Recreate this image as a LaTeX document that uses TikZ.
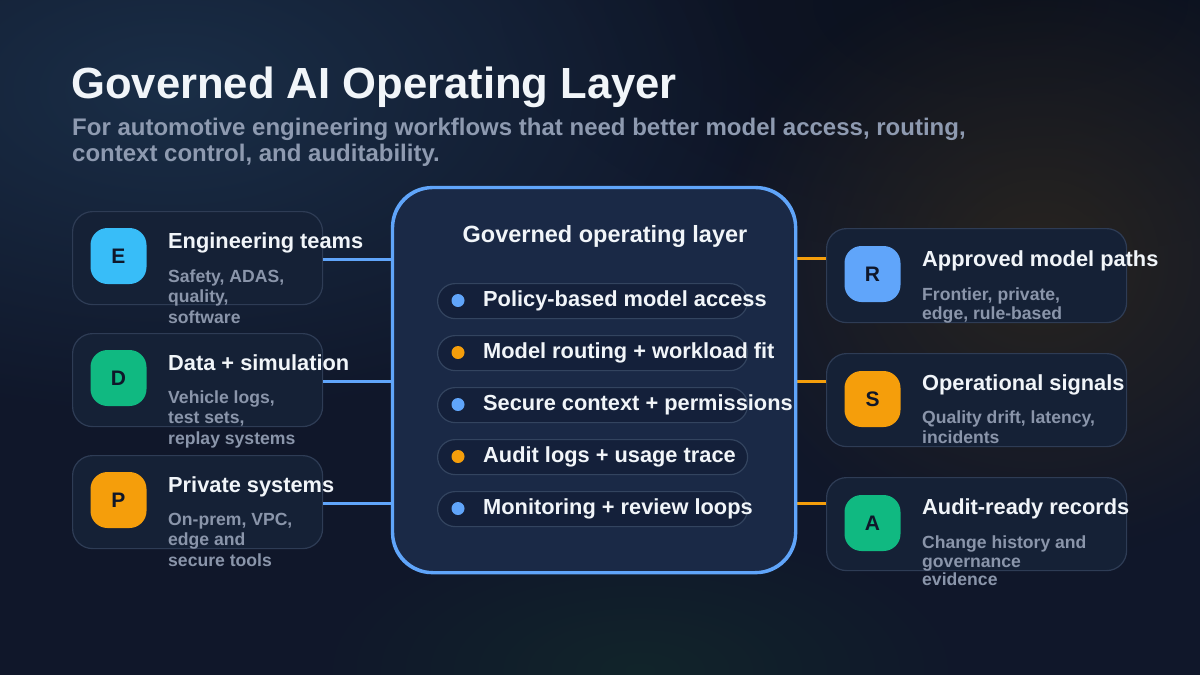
\documentclass[tikz,border=0pt]{standalone}
\usepackage{fontspec}
\setmainfont{Liberation Sans}
\usetikzlibrary{fadings}
\tikzfading[name=glowfade, inner color=transparent!0, outer color=transparent!100]
\definecolor{bgbase}{HTML}{10172A}
\definecolor{bgdark}{HTML}{0A0F19}
\definecolor{glowblue}{HTML}{1A2E47}
\definecolor{glowwarm}{HTML}{28241F}
\definecolor{glowteal}{HTML}{12282A}
\definecolor{cardfill}{HTML}{152136}
\definecolor{cardline}{HTML}{2E3C55}
\definecolor{boxfill}{HTML}{1A2946}
\definecolor{boxline}{HTML}{60A5FA}
\definecolor{pillfill}{HTML}{14203A}
\definecolor{pillline}{HTML}{33445F}
\definecolor{subgrey}{HTML}{8A95AA}
\definecolor{headgrey}{HTML}{8E9AB0}
\definecolor{txtwhite}{HTML}{F1F5F9}
\definecolor{icondark}{HTML}{0F172A}
\definecolor{cSky}{HTML}{38BDF8}
\definecolor{cGreen}{HTML}{10B981}
\definecolor{cAmber}{HTML}{F59E0B}
\definecolor{cBlue}{HTML}{60A5FA}
\tikzset{
  card/.style={draw=cardline, line width=1.2pt, fill=cardfill, rounded corners=20pt, inner sep=0pt, anchor=north west},
  iconbox/.style={rounded corners=17pt, minimum width=56pt, minimum height=56pt, inner sep=0pt, text=icondark, font=\fontsize{21}{24}\selectfont\bfseries},
  ctitle/.style={anchor=base west, inner sep=0pt, text=txtwhite, font=\fontsize{21.8}{26}\selectfont\bfseries},
  csub/.style={anchor=base west, inner sep=0pt, text=subgrey, font=\fontsize{17.6}{20}\selectfont\bfseries},
  headsub/.style={anchor=base west, inner sep=0pt, text=headgrey, font=\fontsize{24}{28}\selectfont\bfseries},
  pill/.style={draw=pillline, line width=1.2pt, fill=pillfill, rounded corners=17.5pt, minimum width=310pt, minimum height=35pt, inner sep=0pt, anchor=north west},
  pilltext/.style={anchor=base west, inner sep=0pt, text=txtwhite, font=\fontsize{21.8}{26}\selectfont\bfseries},
  pdot/.style={circle, minimum size=13pt, inner sep=0pt},
  lconn/.style={draw=cBlue, line width=3pt},
  rconn/.style={draw=cAmber, line width=3pt},
}
\begin{document}
\begin{tikzpicture}[x=1pt, y=-1pt]
\useasboundingbox (0,0) rectangle (1200,675);
% background
\fill[bgbase] (0,0) rectangle (1200,675);
\fill[bgdark, path fading=glowfade, opacity=0.8] (1000,0) ellipse (500 and 260);
\fill[glowblue, path fading=glowfade] (170,90) ellipse (600 and 330);
\fill[glowwarm, path fading=glowfade] (1040,260) ellipse (330 and 300);
\fill[glowteal, path fading=glowfade, opacity=0.8] (640,670) ellipse (330 and 150);

% title
\node[anchor=base west, inner sep=0pt, text=txtwhite, font=\fontsize{43.6}{50}\selectfont\bfseries] (title) at (71,98) {Governed AI Operating Layer};
\node[headsub] (sub1) at (72,135) {For automotive engineering workflows that need better model access, routing,};
\node[headsub] (sub2) at (72,161) {context control, and auditability.};

% central box
\node[draw=boxline, line width=2.2pt, fill=boxfill, rounded corners=40pt, minimum width=402pt, minimum height=384pt, inner sep=0pt, anchor=north west] (box) at (392,187) {};

% left cards
\node[card, minimum width=250pt, minimum height=93pt] (e) at (72,211) {};
\node[card, minimum width=250pt, minimum height=93pt] (d) at (72,333) {};
\node[card, minimum width=250pt, minimum height=93pt] (p) at (72,455) {};
\draw[lconn] ([yshift=-1.5pt]e.east) -- ([yshift=-1.5pt]e.east -| box.west);
\draw[lconn] ([yshift=-1.5pt]d.east) -- ([yshift=-1.5pt]d.east -| box.west);
\draw[lconn] ([yshift=-1.5pt]p.east) -- ([yshift=-1.5pt]p.east -| box.west);

\node[iconbox, fill=cSky] (ei) at (118.5,256) {E};
\node[iconbox, fill=cGreen] (di) at (118.5,378) {D};
\node[iconbox, fill=cAmber] (pi) at (118.5,500) {P};

\node[ctitle] (et) at (168,248) {Engineering teams};
\node[csub] (es1) at (168,282) {Safety, ADAS,};
\node[csub] (es2) at (168,302.5) {quality,};
\node[csub] (es3) at (168,323) {software};

\node[ctitle] (dt) at (168,370) {Data + simulation};
\node[csub] (ds1) at (168,403) {Vehicle logs,};
\node[csub] (ds2) at (168,423.5) {test sets,};
\node[csub] (ds3) at (168,444) {replay systems};

\node[ctitle] (pt) at (168,492) {Private systems};
\node[csub] (ps1) at (168,525) {On-prem, VPC,};
\node[csub] (ps2) at (168,545.5) {edge and};
\node[csub] (ps3) at (168,566) {secure tools};

% right cards
\node[card, minimum width=300pt, minimum height=94pt] (r) at (826,228) {};
\node[card, minimum width=300pt, minimum height=93pt] (s) at (826,353) {};
\node[card, minimum width=300pt, minimum height=93pt] (a) at (826,477) {};
\draw[rconn] ([yshift=-30pt]r.north west) -- ([yshift=-30pt]r.north west -| box.east);
\draw[rconn] ([yshift=-28pt]s.north west) -- ([yshift=-28pt]s.north west -| box.east);
\draw[rconn] ([yshift=-26pt]a.north west) -- ([yshift=-26pt]a.north west -| box.east);
% redraw box border over connector ends
\draw[boxline, line width=2.2pt, rounded corners=40pt] (box.north west) rectangle (box.south east);

\node[iconbox, fill=cBlue] (ri) at (872.5,274) {R};
\node[iconbox, fill=cAmber] (si) at (872.5,399) {S};
\node[iconbox, fill=cGreen] (ai) at (872.5,523) {A};

\node[ctitle] (rt) at (922,266) {Approved model paths};
\node[csub] (rs1) at (922,300) {Frontier, private,};
\node[csub] (rs2) at (922,319.5) {edge, rule-based};

\node[ctitle] (st) at (922,390) {Operational signals};
\node[csub] (ss1) at (922,423) {Quality drift, latency,};
\node[csub] (ss2) at (922,443) {incidents};

\node[ctitle] (at) at (922,514) {Audit-ready records};
\node[csub] (as1) at (922,548) {Change history and};
\node[csub] (as2) at (922,567.5) {governance};
\node[csub] (as3) at (922,585) {evidence};

% central content
\node[anchor=base, inner sep=0pt, text=txtwhite, font=\fontsize{23.5}{28}\selectfont\bfseries] (boxtitle) at (605,242) {Governed operating layer};

\node[pill] (p1) at (437,283) {};
\node[pill] (p2) at (437,335) {};
\node[pill] (p3) at (437,387) {};
\node[pill] (p4) at (437,439) {};
\node[pill] (p5) at (437,491) {};

\node[pdot, fill=cBlue] (d1) at (458,300.5) {};
\node[pdot, fill=cAmber] (d2) at (458,352.5) {};
\node[pdot, fill=cBlue] (d3) at (458,404.5) {};
\node[pdot, fill=cAmber] (d4) at (458,456.5) {};
\node[pdot, fill=cBlue] (d5) at (458,508.5) {};

\node[pilltext] (t1) at (483,306.5) {Policy-based model access};
\node[pilltext] (t2) at (483,358.5) {Model routing + workload fit};
\node[pilltext] (t3) at (483,410.5) {Secure context + permissions};
\node[pilltext] (t4) at (483,462.5) {Audit logs + usage trace};
\node[pilltext] (t5) at (483,514.5) {Monitoring + review loops};
\end{tikzpicture}
\end{document}
